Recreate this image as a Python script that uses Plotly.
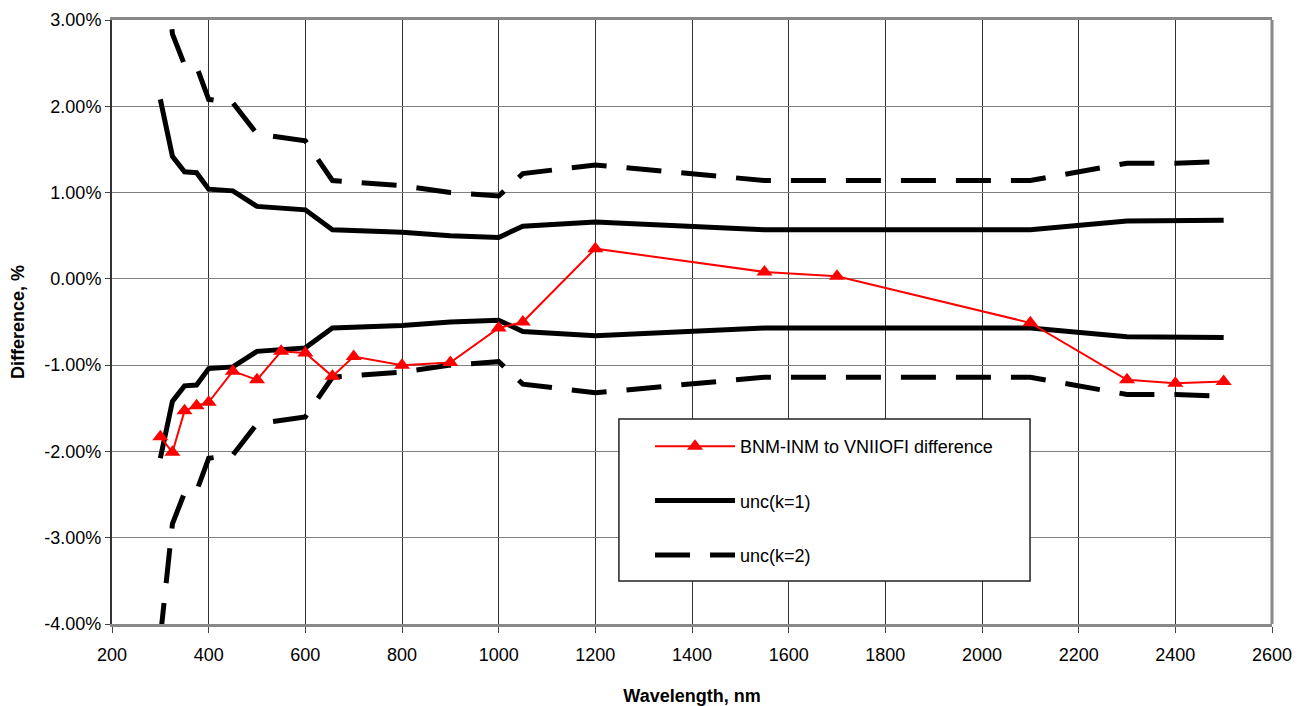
import plotly.graph_objects as go

# ---- data ----
wavelength = [300, 325, 350, 375, 400, 450, 500, 550, 600, 656, 700, 800, 900,
              1000, 1050, 1200, 1550, 1700, 2100, 2300, 2400, 2500]
difference = [-1.83, -2.01, -1.53, -1.47, -1.43, -1.07, -1.17, -0.84, -0.86, -1.13,
              -0.90, -1.00, -0.97, -0.57, -0.50, 0.35, 0.08, 0.03, -0.51, -1.17,
              -1.21, -1.19]
unc_k1 = [2.08, 1.42, 1.24, 1.23, 1.04, 1.02, 0.84, 0.82, 0.80, 0.57, 0.56, 0.54,
          0.50, 0.48, 0.61, 0.66, 0.57, 0.57, 0.57, 0.67, 0.67, 0.68]
unc_k2 = [4.16, 2.84, 2.48, 2.46, 2.08, 2.04, 1.68, 1.64, 1.60, 1.14, 1.12, 1.08,
          1.00, 0.96, 1.22, 1.32, 1.14, 1.14, 1.14, 1.34, 1.34, 1.36]

y_tickvals = [-4, -3, -2, -1, 0, 1, 2, 3]
y_ticktext = ["-4.00%", "-3.00%", "-2.00%", "-1.00%", "0.00%", "1.00%", "2.00%", "3.00%"]
x_tickvals = [200, 400, 600, 800, 1000, 1200, 1400, 1600, 1800, 2000, 2200, 2400, 2600]

FONT = "Liberation Sans, Arial, sans-serif"

fig = go.Figure()

# uncertainty k=2 (dashed)
dash_style = dict(color="black", width=5, dash="35px,20px")
fig.add_trace(go.Scatter(x=wavelength, y=unc_k2, mode="lines", line=dash_style,
                         name="unc(k=2)", legendgroup="k2", legendrank=3))
fig.add_trace(go.Scatter(x=wavelength, y=[-v for v in unc_k2], mode="lines", line=dash_style,
                         name="unc(k=2)", legendgroup="k2", showlegend=False))
# uncertainty k=1 (solid)
solid_style = dict(color="black", width=5)
fig.add_trace(go.Scatter(x=wavelength, y=unc_k1, mode="lines", line=solid_style,
                         name="unc(k=1)", legendgroup="k1", legendrank=2))
fig.add_trace(go.Scatter(x=wavelength, y=[-v for v in unc_k1], mode="lines", line=solid_style,
                         name="unc(k=1)", legendgroup="k1", showlegend=False))
# difference
fig.add_trace(go.Scatter(x=wavelength, y=difference, mode="lines+markers",
                         line=dict(color="#ff0000", width=2),
                         marker=dict(symbol="triangle-up", size=14, color="#ff0000"),
                         name="BNM-INM to VNIIOFI difference", legendgroup="d",
                         legendrank=1))

fig.update_layout(
    width=1304, height=698,
    margin=dict(l=104, r=40, t=12, b=82),
    paper_bgcolor="white", plot_bgcolor="white",
    font=dict(family=FONT, size=18, color="black"),
    showlegend=True,
    legend=dict(x=0.4638, y=0.3245, xanchor="left", yanchor="top",
                bgcolor="rgba(0,0,0,0)", borderwidth=0,
                font=dict(size=18), itemwidth=80, tracegroupgap=28),
    xaxis=dict(range=[200, 2600], tickvals=x_tickvals, showgrid=True, automargin=False,
               gridcolor="#333", gridwidth=1, zeroline=False,
               showline=True, linecolor="#888", linewidth=3, mirror=True,
               ticks="outside", ticklen=6, tickcolor="#444", ticklabelstandoff=6,
               title=dict(text="<b>Wavelength, nm</b>", font=dict(size=18), standoff=28)),
    yaxis=dict(range=[-4, 3], tickvals=y_tickvals, ticktext=y_ticktext, showgrid=True,
               automargin=False,
               gridcolor="#808080", gridwidth=1, zeroline=False,
               showline=True, linecolor="#333", linewidth=2,
               ticks="outside", ticklen=5, tickcolor="#444",
               title=dict(text="<b>Difference, %</b>", font=dict(size=18), standoff=23)),
    shapes=[
        dict(type="line", xref="paper", yref="paper", x0=1, x1=1, y0=0, y1=1,
             line=dict(color="#888", width=3)),
        # legend frame
        dict(type="rect", xref="paper", yref="paper", x0=0.437, x1=0.7914,
             y0=0.0712, y1=0.3394, fillcolor="white", layer="above",
             line=dict(color="#222", width=1.5)),
    ],
)

fig.write_html("out.html")
